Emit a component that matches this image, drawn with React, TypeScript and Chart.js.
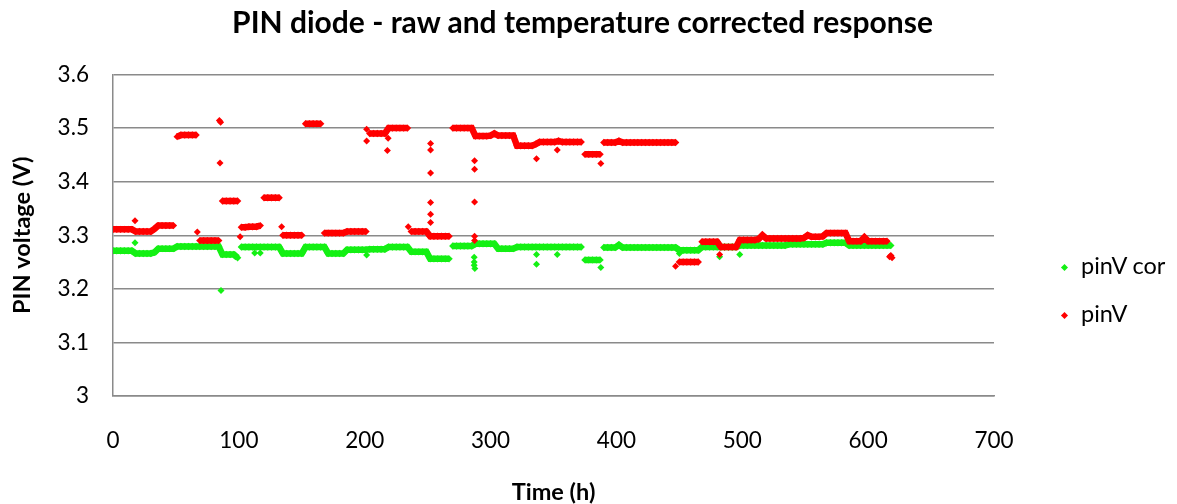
import React, { useEffect, useRef } from "react";
import { Chart, registerables } from "chart.js";

Chart.register(...registerables);

// ---------- data ----------
const chartTitle = "PIN diode - raw and temperature corrected response";
const xAxisTitle = "Time (h)";
const yAxisTitle = "PIN voltage (V)";
const seriesNames = ["pinV cor", "pinV"];

const xTicks = [0, 100, 200, 300, 400, 500, 600, 700];
const yTicks = [3, 3.1, 3.2, 3.3, 3.4, 3.5, 3.6];

// sample times (h)
const hours = [
  0, 3, 6, 9, 12, 15, 18, 21, 24, 27,
  30, 33, 36, 39, 42, 45, 48, 51, 54, 57,
  60, 63, 66, 69, 72, 75, 78, 81, 84, 87,
  90, 93, 96, 99, 102, 105, 108, 111, 114, 117,
  120, 123, 126, 129, 132, 135, 138, 141, 144, 147,
  150, 153, 156, 159, 162, 165, 168, 171, 174, 177,
  180, 183, 186, 189, 192, 195, 198, 201, 204, 207,
  210, 213, 216, 219, 222, 225, 228, 231, 234, 237,
  240, 243, 246, 249, 252, 255, 258, 261, 264, 267,
  270, 273, 276, 279, 282, 285, 288, 291, 294, 297,
  300, 303, 306, 309, 312, 315, 318, 321, 324, 327,
  330, 333, 336, 339, 342, 345, 348, 351, 354, 357,
  360, 363, 366, 369, 372, 375, 378, 381, 384, 387,
  390, 393, 396, 399, 402, 405, 408, 411, 414, 417,
  420, 423, 426, 429, 432, 435, 438, 441, 444, 447,
  450, 453, 456, 459, 462, 465, 468, 471, 474, 477,
  480, 483, 486, 489, 492, 495, 498, 501, 504, 507,
  510, 513, 516, 519, 522, 525, 528, 531, 534, 537,
  540, 543, 546, 549, 552, 555, 558, 561, 564, 567,
  570, 573, 576, 579, 582, 585, 588, 591, 594, 597,
  600, 603, 606, 609, 612, 615, 618,
];

// pinV (raw), V
const pinV = [
  3.311, 3.311, 3.311, 3.311, 3.311, 3.311, 3.307, 3.307, 3.307, 3.307,
  3.307, 3.312, 3.318, 3.318, 3.318, 3.318, 3.318, 3.484, 3.487, 3.487,
  3.487, 3.487, 3.487, 3.290, 3.290, 3.290, 3.290, 3.290, 3.290, 3.364,
  3.364, 3.364, 3.364, 3.364, 3.315, 3.315, 3.316, 3.316, 3.316, 3.318,
  3.370, 3.370, 3.370, 3.370, 3.370, 3.300, 3.300, 3.300, 3.300, 3.300,
  3.300, 3.508, 3.508, 3.508, 3.508, 3.508, 3.304, 3.304, 3.304, 3.304,
  3.304, 3.304, 3.307, 3.307, 3.307, 3.307, 3.307, 3.307, 3.490, 3.490,
  3.490, 3.490, 3.490, 3.500, 3.500, 3.500, 3.500, 3.500, 3.500, 3.307,
  3.307, 3.307, 3.307, 3.307, 3.298, 3.298, 3.298, 3.298, 3.298, 3.298,
  3.500, 3.500, 3.500, 3.500, 3.500, 3.500, 3.485, 3.485, 3.485, 3.485,
  3.486, 3.490, 3.486, 3.486, 3.486, 3.486, 3.486, 3.467, 3.467, 3.467,
  3.467, 3.467, 3.470, 3.474, 3.474, 3.474, 3.474, 3.474, 3.476, 3.474,
  3.474, 3.474, 3.474, 3.474, 3.474, 3.451, 3.451, 3.451, 3.451, 3.451,
  3.473, 3.473, 3.473, 3.473, 3.476, 3.473, 3.473, 3.473, 3.473, 3.473,
  3.473, 3.473, 3.473, 3.473, 3.473, 3.473, 3.473, 3.473, 3.473, 3.473,
  3.250, 3.250, 3.250, 3.250, 3.250, 3.250, 3.288, 3.288, 3.288, 3.288,
  3.288, 3.278, 3.278, 3.278, 3.278, 3.278, 3.291, 3.291, 3.291, 3.291,
  3.291, 3.293, 3.300, 3.294, 3.294, 3.294, 3.294, 3.294, 3.294, 3.294,
  3.294, 3.294, 3.294, 3.295, 3.300, 3.297, 3.297, 3.297, 3.298, 3.304,
  3.304, 3.304, 3.304, 3.304, 3.304, 3.289, 3.289, 3.289, 3.289, 3.296,
  3.289, 3.289, 3.289, 3.289, 3.289, 3.289, 3.262,
];

// pinV cor (temperature corrected), V
const pinVCor = [
  3.271, 3.271, 3.271, 3.271, 3.271, 3.271, 3.266, 3.266, 3.266, 3.266,
  3.266, 3.268, 3.275, 3.275, 3.275, 3.275, 3.275, 3.279, 3.279, 3.279,
  3.279, 3.279, 3.279, 3.279, 3.279, 3.279, 3.279, 3.279, 3.279, 3.264,
  3.264, 3.264, 3.264, 3.258, 3.278, 3.278, 3.278, 3.278, 3.278, 3.278,
  3.278, 3.278, 3.278, 3.278, 3.278, 3.266, 3.266, 3.266, 3.266, 3.266,
  3.266, 3.278, 3.278, 3.278, 3.278, 3.278, 3.278, 3.266, 3.266, 3.266,
  3.266, 3.266, 3.273, 3.273, 3.273, 3.273, 3.273, 3.273, 3.274, 3.274,
  3.274, 3.274, 3.274, 3.278, 3.278, 3.278, 3.278, 3.278, 3.278, 3.269,
  3.269, 3.269, 3.269, 3.269, 3.256, 3.256, 3.256, 3.256, 3.256, 3.256,
  3.280, 3.280, 3.280, 3.280, 3.280, 3.280, 3.284, 3.284, 3.284, 3.284,
  3.284, 3.284, 3.275, 3.275, 3.275, 3.275, 3.275, 3.278, 3.278, 3.278,
  3.278, 3.278, 3.278, 3.278, 3.278, 3.278, 3.278, 3.278, 3.278, 3.278,
  3.278, 3.278, 3.278, 3.278, 3.278, 3.254, 3.254, 3.254, 3.254, 3.254,
  3.277, 3.277, 3.277, 3.277, 3.282, 3.277, 3.277, 3.277, 3.277, 3.277,
  3.277, 3.277, 3.277, 3.277, 3.277, 3.277, 3.277, 3.277, 3.277, 3.277,
  3.272, 3.272, 3.272, 3.272, 3.272, 3.272, 3.278, 3.278, 3.278, 3.278,
  3.278, 3.278, 3.278, 3.278, 3.278, 3.278, 3.281, 3.281, 3.281, 3.281,
  3.281, 3.281, 3.281, 3.281, 3.281, 3.281, 3.281, 3.281, 3.281, 3.283,
  3.283, 3.283, 3.283, 3.283, 3.283, 3.283, 3.283, 3.283, 3.283, 3.286,
  3.286, 3.286, 3.286, 3.286, 3.286, 3.281, 3.281, 3.281, 3.281, 3.281,
  3.281, 3.281, 3.281, 3.281, 3.281, 3.281, 3.281,
];

// isolated readings [h, V]
const pinVSpikes = [
  [17.5, 3.327], [67, 3.306], [84.5, 3.514], [85.5, 3.511], [85, 3.435],
  [101, 3.297], [134, 3.316], [201.5, 3.498], [201.5, 3.476], [218, 3.458],
  [218.6, 3.481], [234.6, 3.316], [252.3, 3.471], [252.3, 3.459], [252.3, 3.416],
  [252.3, 3.361], [252.3, 3.339], [252.3, 3.324], [287.3, 3.439], [287.3, 3.423],
  [287.3, 3.362], [287.3, 3.298], [287.3, 3.29], [336.5, 3.443], [353, 3.459],
  [387.6, 3.434], [447, 3.242], [482, 3.264], [617, 3.26], [619, 3.258],
];

const pinVCorSpikes = [
  [17.5, 3.286], [85.8, 3.197], [112.6, 3.267], [117, 3.267], [201.5, 3.263],
  [287, 3.259], [287, 3.25], [287, 3.244], [287.5, 3.238], [336.5, 3.264],
  [336.5, 3.246], [353, 3.264], [387.6, 3.24], [450, 3.266], [482, 3.26],
  [498, 3.264],
];

// ---------- styling ----------
const RED = "#ff0000";
const GREEN = "#14f014";
const GRID = "#8a8a8a";
const FONT = "Lato, 'Open Sans', sans-serif";

export default function App() {
  const canvasRef = useRef<HTMLCanvasElement | null>(null);

  useEffect(() => {
    const canvas = canvasRef.current;
    if (!canvas) return;

    const series = (xs: number[], ys: number[]) => xs.map((x, i) => ({ x, y: ys[i] }));
    const spikes = (arr: number[][]) => arr.map(([x, y]) => ({ x, y }));

    const runStyle = (color: string) => ({
      showLine: true,
      borderColor: color,
      backgroundColor: color,
      borderWidth: 6.5,
      pointStyle: "rectRot" as const,
      pointRadius: 3.7,
      pointBorderWidth: 0,
      pointBackgroundColor: color,
      segment: {
        borderColor: (ctx: any) =>
          Math.abs(ctx.p0.parsed.y - ctx.p1.parsed.y) > 0.02 ? "rgba(0,0,0,0)" : color,
      },
    });
    const spikeStyle = (color: string) => ({
      showLine: false,
      backgroundColor: color,
      borderColor: color,
      pointStyle: "rectRot" as const,
      pointRadius: 3.5,
      pointBorderWidth: 0,
    });

    const chart = new Chart(canvas, {
      type: "scatter",
      data: {
        datasets: [
          { label: seriesNames[1], data: series(hours, pinV), ...runStyle(RED) },
          { label: seriesNames[1] + " spikes", data: spikes(pinVSpikes), ...spikeStyle(RED) },
          { label: seriesNames[0], data: series(hours, pinVCor), ...runStyle(GREEN) },
          { label: seriesNames[0] + " spikes", data: spikes(pinVCorSpikes), ...spikeStyle(GREEN) },
        ],
      },
      options: {
        responsive: false,
        animation: false,
        devicePixelRatio: 1,
        layout: { padding: { left: 0, right: 183, top: 74.5, bottom: 0 } },
        plugins: {
          legend: { display: false },
          tooltip: { enabled: false },
          title: { display: false },
        },
        scales: {
          x: {
            type: "linear",
            min: 0,
            max: 700,
            afterBuildTicks: (s: any) => {
              s.ticks = xTicks.map((v) => ({ value: v }));
            },
            afterFit: (s: any) => {
              s.height = 108;
            },
            ticks: {
              color: "#000",
              padding: 31,
              font: { family: FONT, size: 22.5 },
              callback: (v: any) => String(v),
            },
            grid: { display: false, drawTicks: false },
            border: { display: true, color: GRID, width: 1.5 },
            title: {
              display: true,
              text: xAxisTitle,
              color: "#000",
              font: { family: FONT, size: 23.5, weight: "bold", lineHeight: 1 },
              padding: { top: 0, bottom: 0 },
            },
          },
          y: {
            type: "linear",
            min: 3,
            max: 3.6,
            afterBuildTicks: (s: any) => {
              s.ticks = yTicks.map((v) => ({ value: v }));
            },
            afterFit: (s: any) => {
              s.width = 113;
            },
            ticks: {
              color: "#000",
              padding: 24,
              font: { family: FONT, size: 22.5 },
              callback: (v: any) => String(Math.round(Number(v) * 10) / 10),
            },
            grid: { color: GRID, lineWidth: 1.5, drawTicks: false },
            border: { display: true, color: GRID, width: 1.5 },
            title: {
              display: true,
              text: yAxisTitle,
              color: "#000",
              font: { family: FONT, size: 23.5, weight: "bold", lineHeight: 1 },
              padding: { top: 11, bottom: 0 },
            },
          },
        },
      },
    });

    return () => chart.destroy();
  }, []);

  const legendRows = [
    { name: seriesNames[0], color: GREEN, cy: 267 },
    { name: seriesNames[1], color: RED, cy: 315 },
  ];

  return (
    <div
      style={{
        position: "fixed",
        left: 0,
        top: 0,
        width: 1177,
        height: 504,
        background: "#fff",
        overflow: "hidden",
      }}
    >
      <canvas ref={canvasRef} width={1177} height={504} style={{ display: "block" }} />
      <div
        style={{
          position: "absolute",
          left: 0,
          top: 3,
          width: 1165,
          textAlign: "center",
          fontFamily: FONT,
          fontWeight: "bold",
          fontSize: 30,
          lineHeight: "36px",
          color: "#000",
          whiteSpace: "nowrap",
        }}
      >
        {chartTitle}
      </div>
      {legendRows.map((r) => (
        <div
          key={r.name}
          style={{
            position: "absolute",
            left: 1058,
            top: r.cy - 14,
            height: 28,
            display: "flex",
            alignItems: "center",
            fontFamily: FONT,
            fontSize: 23.5,
            color: "#000",
            whiteSpace: "nowrap",
          }}
        >
          <span
            style={{
              display: "inline-block",
              width: 5,
              height: 5,
              background: r.color,
              transform: "rotate(45deg)",
              marginLeft: 4,
              marginRight: 14,
            }}
          />
          <span style={{ lineHeight: "28px", marginTop: -4 }}>{r.name}</span>
        </div>
      ))}
    </div>
  );
}
